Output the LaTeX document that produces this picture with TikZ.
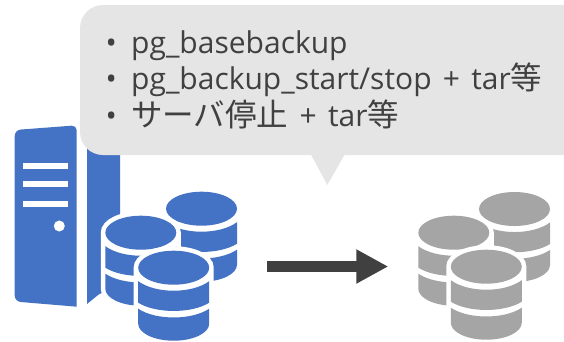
\documentclass[tikz,border=0pt]{standalone}
\usepackage{fontspec}
\setmainfont{Open Sans}
\newfontfamily\cjkfont[Scale=1.05]{Noto Sans CJK JP}
\usetikzlibrary{arrows.meta}
\definecolor{iconblue}{HTML}{4472C4}
\definecolor{icongray}{HTML}{A5A5A5}
\definecolor{bubblegray}{HTML}{E5E5E5}
\definecolor{inkgray}{HTML}{404040}
\newcommand{\dbcyl}[3]{%
 \begin{scope}[shift={(#1,#2)}]
  \path[fill=white,draw=white,line width=9pt]
    (-35.5,0) -- (-35.5,56) .. controls (-35.5,65.4) and (-19.6,73) .. (0,73)
    .. controls (19.6,73) and (35.5,65.4) .. (35.5,56) -- (35.5,0)
    .. controls (35.5,-9.4) and (19.6,-17) .. (0,-17)
    .. controls (-19.6,-17) and (-35.5,-9.4) .. (-35.5,0) -- cycle;
  \fill[#3] (0,0) ellipse [x radius=35.5, y radius=17];
  \fill[#3] (-35.5,13.5) .. controls (-18,26.2) and (18,26.2) .. (35.5,13.5)
    -- (35.5,35) .. controls (18,46) and (-18,46) .. (-35.5,35) -- cycle;
  \fill[#3] (-35.5,41) .. controls (-18,52.7) and (18,52.7) .. (35.5,41)
    -- (35.5,56) .. controls (35.5,65.4) and (19.6,73) .. (0,73)
    .. controls (-19.6,73) and (-35.5,65.4) .. (-35.5,56) -- cycle;
 \end{scope}}
\tikzset{
  bullettext/.style={anchor=base west,inner sep=0pt,text=inkgray,font=\fontsize{30}{36}\selectfont},
  flowarrow/.style={draw=inkgray,line width=10.7pt,-{Triangle[length=32pt,width=32pt]}}
}
\newcommand{\itemmark}{\makebox[25.5pt][l]{•}}
\newcommand{\plusgap}{\hspace{3.5pt} + \hspace{3.5pt}}
\begin{document}
\begin{tikzpicture}[x=1pt,y=-1pt]
\useasboundingbox (0,0) rectangle (564,341);
% server
\fill[iconblue,rounded corners=5pt] (14.7,130) -- (76.7,125.3) [sharp corners] -- (76.7,306.7) [rounded corners=6pt] -- (14.7,301.5) -- cycle;
\fill[iconblue,rounded corners=3pt] (87,125) -- (120,130) -- (120,290) -- (100.5,293) [sharp corners] -- (87,304) -- cycle;
\fill[white] (23.3,163.3) rectangle (68,169);
\fill[white] (23.3,181.3) rectangle (68,187);
\fill[white] (23.3,201) rectangle (68,207);
\fill[white] (59.3,226) circle (5.5);
% blue databases
\dbcyl{201.5}{208.7}{iconblue}
\dbcyl{140.8}{232.7}{iconblue}
\dbcyl{173.7}{267.7}{iconblue}
% gray databases
\dbcyl{514.5}{209}{icongray}
\dbcyl{453.8}{232.7}{icongray}
\dbcyl{486.3}{266.7}{icongray}
% bubble
\fill[bubblegray,rounded corners=23pt] (80,5) -- (586,5) -- (586,155) -- (80,155) -- cycle;
\fill[bubblegray,rounded corners=12pt] (540,5) -- (564,5) -- (564,155) -- (540,155) -- cycle;
\fill[white] (564,0) rectangle (590,160);
\fill[bubblegray] (310.7,154) -- (345,154) -- (327.3,185) -- cycle;
% text
\node[bullettext] (lineone) at (105.5,53) {\itemmark pg\_basebackup};
\node[bullettext] (linetwo) at (105.5,89.5) {\itemmark pg\_backup\_start/stop\plusgap tar{\cjkfont 等}};
\node[bullettext] (linethree) at (105.5,126.5) {\itemmark {\cjkfont サーバ停止}\plusgap tar{\cjkfont 等}};
% arrow
\coordinate (arrowstart) at (267.3,266.5);
\coordinate (arrowend) at (388.3,266.5);
\draw[flowarrow] (arrowstart) -- (arrowend);
\end{tikzpicture}
\end{document}
